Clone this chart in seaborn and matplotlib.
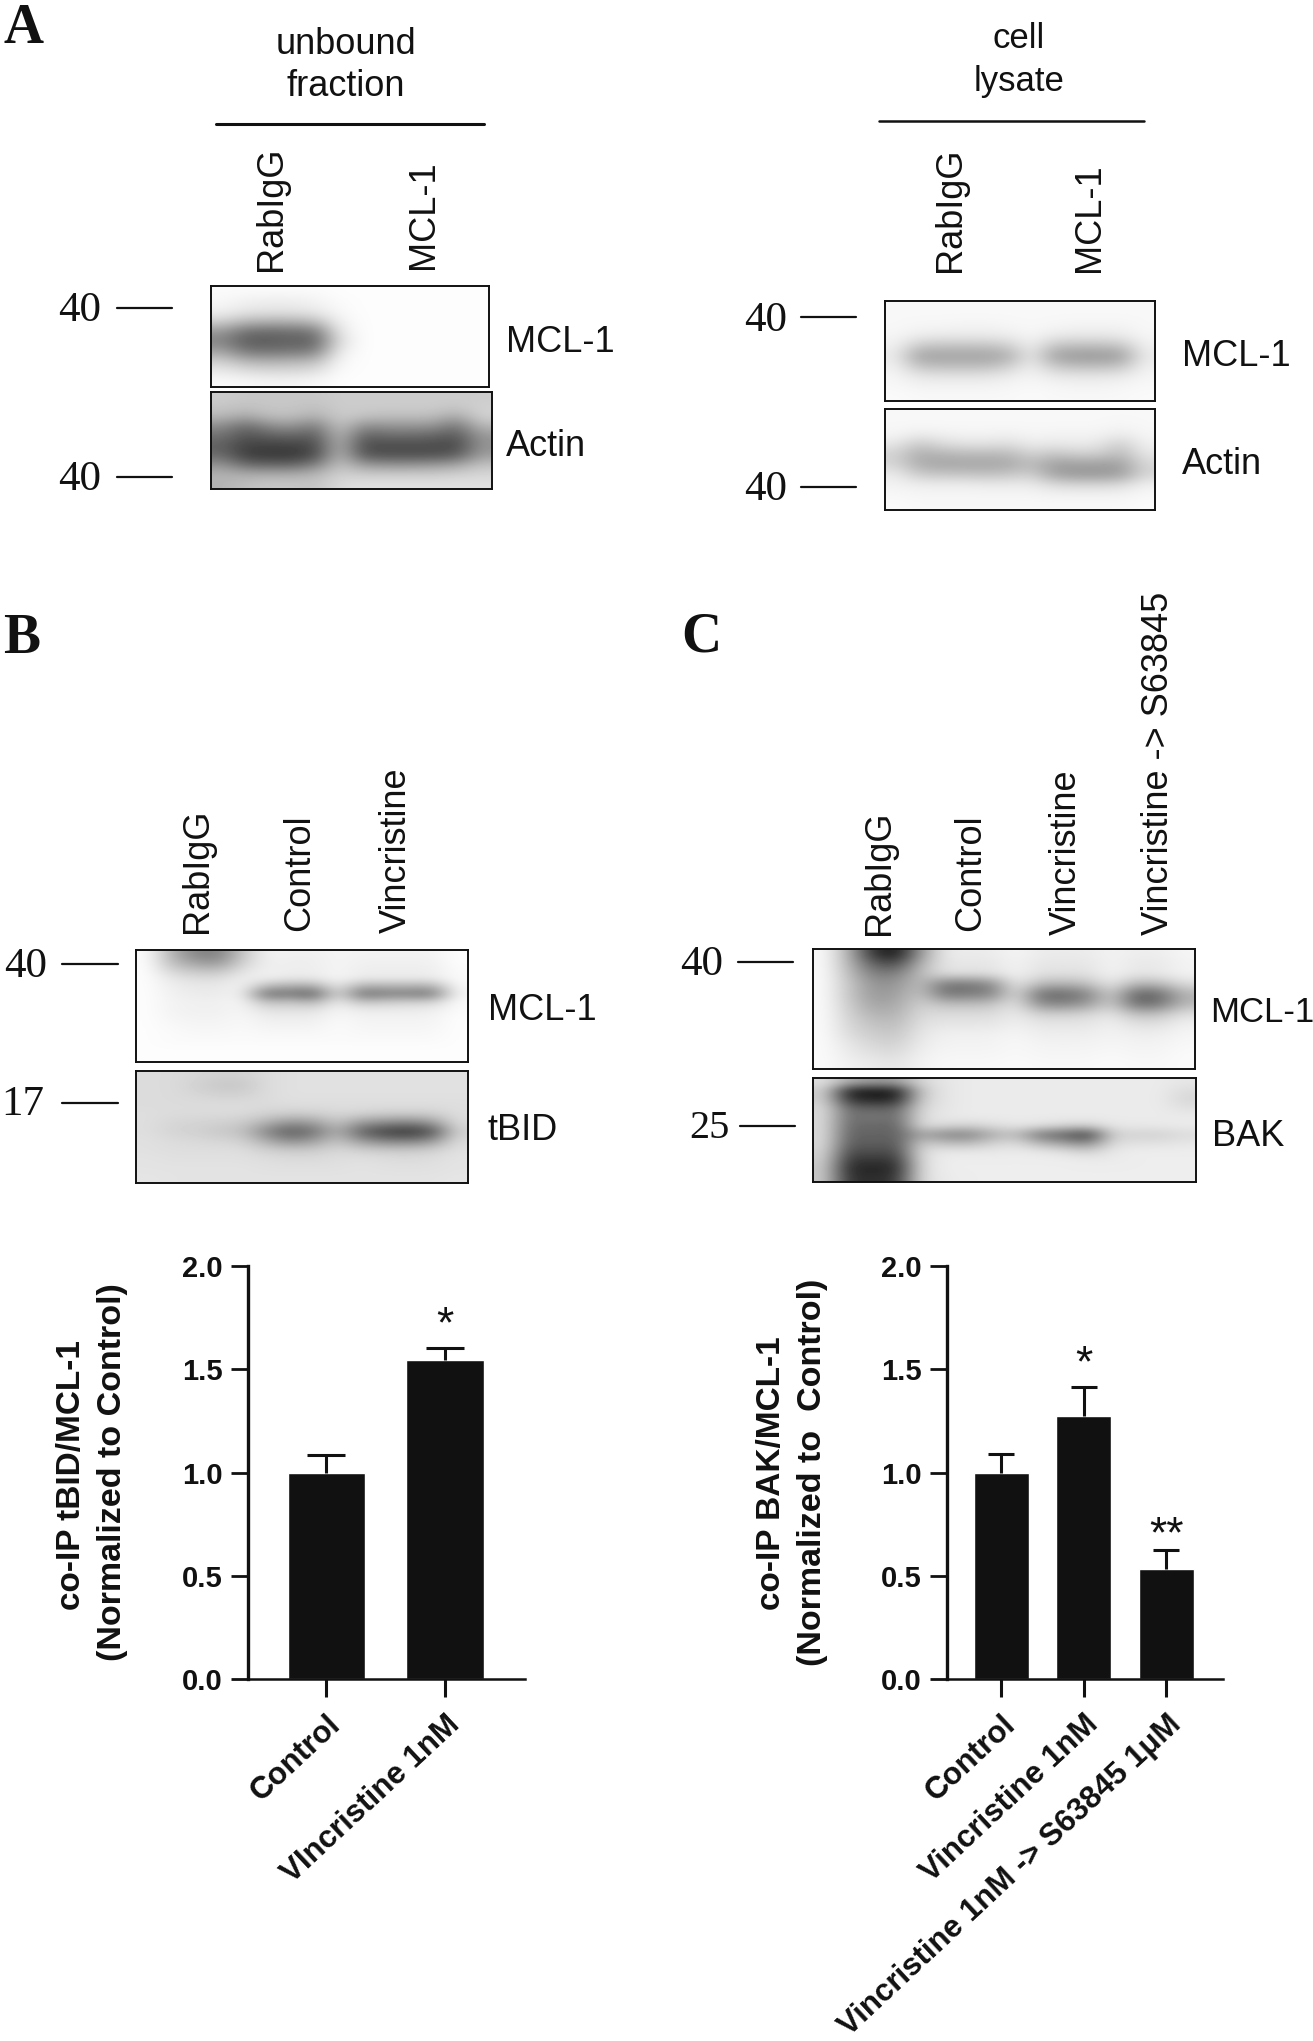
import matplotlib
matplotlib.use("Agg")
import matplotlib.pyplot as plt
import numpy as np
import pandas as pd
import seaborn as sns

# ---------- bar chart data ----------
tbid_groups = ["Control", "VIncristine 1nM"]
tbid_values = [1.0, 1.545]
tbid_errors = [0.085, 0.06]
tbid_stars = ["", "*"]

bak_groups = ["Control", "Vincristine 1nM", "Vincristine 1nM -> S63845 1\u03bcM"]
bak_values = [1.0, 1.275, 0.535]
bak_errors = [0.09, 0.14, 0.09]
bak_stars = ["", "*", "**"]

y_ticks = [0.0, 0.5, 1.0, 1.5, 2.0]

# ---------- blot darkness read by eye (0 = white, 100 = black) ----------
blot_a_mcl1 = [
    [2, 2, 2, 2, 2, 1, 1, 1, 1, 1, 1, 1],
    [3, 6, 7, 7, 5, 2, 1, 1, 1, 1, 1, 1],
    [6, 10, 11, 11, 9, 3, 1, 1, 1, 1, 1, 1],
    [18, 28, 30, 30, 26, 6, 1, 1, 1, 1, 1, 1],
    [40, 56, 58, 56, 54, 10, 1, 1, 1, 1, 1, 1],
    [48, 64, 64, 62, 62, 14, 1, 1, 1, 1, 1, 1],
    [35, 52, 54, 52, 50, 8, 1, 1, 1, 1, 1, 1],
    [18, 28, 30, 28, 26, 4, 1, 1, 1, 1, 1, 1],
    [8, 12, 14, 14, 12, 2, 1, 1, 1, 1, 1, 1],
    [2, 3, 4, 4, 3, 1, 1, 1, 1, 1, 1, 1],
]
blot_a_actin = [
    [20, 22, 22, 22, 22, 20, 20, 20, 20, 20, 20, 20],
    [22, 24, 22, 22, 24, 20, 20, 20, 20, 20, 22, 18],
    [28, 35, 26, 26, 32, 20, 24, 26, 26, 26, 35, 18],
    [45, 58, 45, 42, 52, 22, 45, 42, 42, 42, 55, 28],
    [55, 68, 62, 60, 64, 26, 62, 58, 58, 60, 66, 40],
    [62, 74, 74, 74, 70, 28, 70, 70, 70, 70, 72, 42],
    [58, 76, 78, 78, 70, 26, 66, 68, 68, 68, 64, 38],
    [42, 58, 60, 60, 50, 22, 40, 42, 42, 40, 36, 24],
    [30, 32, 32, 32, 28, 18, 20, 20, 20, 20, 18, 16],
    [30, 25, 22, 22, 24, 14, 12, 12, 12, 12, 12, 12],
]
blot_lysate_mcl1 = [
    [3, 3, 3, 3, 3, 3, 3, 3, 3, 3, 3, 3],
    [3, 3, 3, 3, 3, 3, 3, 3, 3, 3, 3, 3],
    [3, 4, 4, 5, 5, 4, 3, 4, 5, 5, 5, 3],
    [4, 8, 9, 9, 9, 8, 4, 9, 10, 10, 9, 4],
    [6, 22, 24, 24, 24, 20, 6, 24, 26, 26, 24, 6],
    [8, 36, 36, 36, 36, 32, 8, 36, 40, 40, 38, 8],
    [6, 24, 26, 26, 26, 20, 6, 22, 26, 26, 24, 6],
    [4, 10, 11, 11, 11, 8, 4, 9, 10, 10, 9, 4],
    [3, 5, 5, 5, 5, 4, 3, 4, 5, 5, 4, 3],
    [2, 3, 3, 3, 3, 3, 2, 3, 3, 3, 3, 2],
]
blot_lysate_actin = [
    [3, 3, 3, 3, 3, 3, 3, 3, 3, 3, 3, 3],
    [3, 3, 3, 3, 3, 3, 3, 3, 3, 3, 4, 3],
    [4, 8, 6, 5, 5, 6, 4, 5, 5, 5, 8, 4],
    [10, 22, 15, 12, 12, 14, 8, 10, 8, 10, 20, 6],
    [18, 32, 30, 28, 28, 28, 18, 24, 20, 20, 28, 10],
    [16, 32, 35, 35, 35, 34, 26, 38, 38, 38, 38, 16],
    [8, 20, 22, 22, 24, 22, 18, 36, 40, 40, 38, 16],
    [5, 7, 7, 7, 8, 8, 8, 14, 16, 16, 14, 6],
    [3, 4, 4, 4, 4, 4, 4, 5, 5, 5, 5, 3],
    [2, 3, 3, 3, 3, 3, 3, 3, 3, 3, 3, 2],
]
blot_b_mcl1 = [
    [1, 30, 48, 50, 22, 5, 6, 6, 4, 5, 5, 5, 5, 1],
    [1, 26, 38, 42, 18, 6, 7, 7, 4, 6, 6, 6, 6, 1],
    [1, 18, 24, 26, 12, 6, 7, 7, 4, 7, 7, 7, 7, 2],
    [1, 10, 14, 14, 7, 6, 9, 9, 4, 8, 8, 8, 8, 2],
    [1, 7, 9, 9, 5, 28, 32, 34, 8, 32, 30, 30, 32, 3],
    [1, 6, 8, 8, 5, 58, 52, 64, 12, 56, 50, 50, 54, 4],
    [1, 5, 6, 6, 4, 26, 22, 30, 7, 24, 20, 18, 18, 2],
    [1, 5, 6, 6, 4, 12, 12, 12, 4, 8, 8, 8, 7, 2],
    [1, 4, 5, 5, 3, 7, 7, 7, 3, 5, 5, 5, 5, 1],
    [1, 3, 4, 4, 3, 5, 5, 5, 2, 4, 4, 4, 4, 1],
    [1, 2, 3, 3, 2, 3, 3, 3, 2, 3, 3, 3, 3, 1],
    [1, 2, 2, 2, 2, 2, 2, 2, 2, 2, 2, 2, 2, 1],
    [1, 1, 1, 1, 1, 1, 1, 1, 1, 1, 1, 1, 1, 1],
    [1, 1, 1, 1, 1, 1, 1, 1, 1, 1, 1, 1, 1, 1],
]
blot_b_tbid = [
    [14, 14, 16, 18, 18, 14, 12, 12, 12, 12, 12, 12, 12, 12],
    [14, 14, 18, 22, 22, 14, 12, 12, 12, 12, 12, 12, 12, 12],
    [14, 14, 16, 18, 18, 14, 12, 12, 12, 12, 12, 12, 12, 12],
    [14, 14, 14, 14, 14, 14, 13, 13, 13, 13, 13, 13, 13, 13],
    [13, 14, 14, 14, 14, 17, 18, 18, 15, 16, 18, 18, 18, 13],
    [13, 16, 17, 18, 20, 30, 42, 38, 22, 40, 44, 48, 40, 14],
    [13, 17, 18, 22, 24, 48, 65, 56, 30, 62, 76, 80, 70, 18],
    [12, 14, 15, 16, 18, 32, 45, 38, 22, 40, 48, 50, 42, 14],
    [12, 13, 13, 13, 13, 18, 20, 20, 15, 18, 20, 20, 18, 12],
    [11, 12, 12, 12, 12, 13, 14, 14, 13, 12, 13, 14, 13, 11],
    [11, 11, 11, 11, 11, 12, 12, 12, 12, 11, 12, 12, 12, 11],
    [10, 11, 11, 11, 11, 11, 11, 11, 11, 11, 11, 11, 11, 10],
]
blot_c_mcl1 = [
    [2, 30, 80, 92, 40, 8, 8, 8, 4, 8, 8, 8, 5, 7, 7, 4],
    [2, 28, 62, 70, 30, 10, 10, 10, 5, 10, 10, 10, 5, 9, 9, 5],
    [2, 25, 50, 50, 26, 12, 12, 12, 5, 12, 12, 12, 5, 10, 9, 5],
    [2, 22, 42, 42, 24, 55, 55, 48, 8, 28, 30, 26, 9, 30, 28, 14],
    [2, 22, 40, 38, 22, 55, 52, 50, 12, 58, 60, 50, 18, 62, 60, 30],
    [2, 20, 36, 34, 18, 25, 25, 24, 10, 45, 48, 40, 18, 58, 55, 28],
    [2, 18, 30, 30, 15, 14, 14, 14, 8, 18, 18, 16, 10, 25, 24, 12],
    [2, 16, 24, 26, 12, 10, 10, 10, 6, 10, 10, 10, 6, 12, 12, 6],
    [2, 14, 20, 22, 10, 6, 6, 6, 4, 7, 7, 7, 5, 7, 7, 4],
    [2, 10, 16, 18, 8, 5, 5, 5, 3, 5, 5, 5, 4, 5, 5, 3],
    [2, 8, 12, 14, 6, 4, 4, 4, 3, 4, 4, 4, 3, 4, 4, 2],
    [2, 6, 8, 10, 5, 3, 3, 3, 2, 3, 3, 3, 2, 3, 3, 2],
]
blot_c_bak = [
    [12, 32, 38, 38, 16, 10, 8, 8, 8, 8, 8, 8, 8, 8, 8, 10],
    [18, 88, 92, 90, 22, 10, 8, 8, 8, 8, 8, 8, 8, 8, 8, 14],
    [18, 80, 85, 85, 20, 10, 8, 8, 8, 8, 8, 8, 8, 8, 8, 16],
    [14, 60, 60, 62, 16, 10, 8, 8, 8, 8, 8, 8, 8, 8, 8, 12],
    [14, 58, 52, 58, 14, 9, 8, 8, 8, 8, 8, 8, 8, 8, 8, 8],
    [14, 60, 58, 62, 14, 15, 18, 14, 10, 12, 16, 18, 10, 9, 9, 8],
    [14, 62, 60, 62, 36, 48, 50, 32, 26, 55, 62, 78, 18, 18, 18, 14],
    [14, 65, 62, 66, 20, 26, 28, 18, 14, 30, 38, 48, 14, 12, 12, 10],
    [16, 72, 68, 72, 14, 9, 9, 9, 8, 9, 12, 18, 9, 7, 7, 7],
    [18, 80, 78, 80, 14, 7, 7, 7, 7, 7, 7, 8, 8, 7, 7, 7],
    [20, 85, 85, 85, 14, 7, 7, 7, 7, 7, 7, 7, 7, 7, 7, 7],
    [20, 82, 82, 80, 14, 8, 7, 7, 7, 7, 7, 7, 7, 7, 7, 7],
]

sns.set_theme(style="ticks")
plt.rcParams["font.family"] = ["Liberation Sans", "DejaVu Sans"]

W, H = 1313, 2041
fig = plt.figure(figsize=(W / 100, H / 100), dpi=100, facecolor="white")
INK = "#111111"
SANS = 26
SERIF = 31


def px_axes(x0, y0, x1, y1):
    return fig.add_axes([x0 / W, 1 - y1 / H, (x1 - x0) / W, (y1 - y0) / H])


def put(x, y, s, size=SANS, ha="center", va="center", rot=0, family="Liberation Sans", weight="normal"):
    fig.text(x / W, 1 - y / H, s, fontsize=size, ha=ha, va=va, rotation=rot,
             family=family, weight=weight, color=INK)


def rule(x0, x1, y, lw=1.6):
    fig.add_artist(plt.Line2D([x0 / W, x1 / W], [1 - y / H, 1 - y / H], color=INK, lw=lw))


def blot(grid, x0, y0, x1, y1):
    ax = px_axes(x0, y0, x1, y1)
    ax.imshow(np.array(grid, dtype=float), cmap="gray_r", vmin=0, vmax=100,
              aspect="auto", interpolation="bicubic")
    ax.set_xticks([])
    ax.set_yticks([])
    for s in ax.spines.values():
        s.set_visible(True)
        s.set_color(INK)
        s.set_linewidth(1.4)


def bars(groups, values, errors, stars, x0, y0, x1, y1, left, right, width, cap, star_offs):
    ax = px_axes(x0, y0, x1, y1)
    df = pd.DataFrame({"group": groups, "value": values})
    sns.barplot(data=df, x="group", y="value", color=INK, saturation=1, width=width,
                errorbar=None, ax=ax)
    pos = np.arange(len(values))
    _, caps, _ = ax.errorbar(pos, values, yerr=[np.zeros(len(errors)), errors], fmt="none",
                             ecolor=INK, elinewidth=2.2, capsize=cap, capthick=2.2)
    caps[0].set_visible(False)
    for p, v, e, s, off in zip(pos, values, errors, stars, star_offs):
        if s:
            ax.annotate(s, (p, v + e), xytext=(0, off), textcoords="offset points",
                        ha="center", va="center", fontsize=32, color=INK)
    ax.set_xlim(left, right)
    ax.set_ylim(0, 2)
    ax.set_yticks(y_ticks)
    ax.set_yticklabels([f"{t:.1f}" for t in y_ticks], fontsize=21, fontweight="bold", color=INK)
    ax.set_xticks(pos)
    ax.set_xticklabels(groups, fontsize=22.5, fontweight="bold", color=INK, rotation=43,
                       ha="right", va="top", rotation_mode="anchor")
    ax.set_xlabel("")
    ax.set_ylabel("")
    ax.tick_params(axis="y", length=12, width=2.0, pad=6, color=INK)
    ax.tick_params(axis="x", length=13, width=2.2, pad=9, color=INK)
    sns.despine(ax=ax)
    ax.spines["left"].set_linewidth(2.4)
    ax.spines["bottom"].set_linewidth(1.8)
    ax.spines["left"].set_color(INK)
    ax.spines["bottom"].set_color(INK)
    ax.patch.set_alpha(0)
    return ax


# ---------- panel letters ----------
for x, y, s in [(24, 29, "A"), (22, 639, "B"), (701, 638, "C")]:
    put(x, y, s, size=40, family="Liberation Serif", weight="bold")

# ---------- panel A ----------
put(346, 44, "unbound", size=26)
put(346, 86, "fraction", size=26)
rule(216, 484, 123.5, lw=2.2)
put(1019, 38, "cell", size=25)
put(1019, 81, "lysate", size=25)
rule(879, 1144, 121.5, lw=1.8)
put(272, 271, "RabIgG", va="bottom", rot=90)
put(424, 269, "MCL-1", va="bottom", rot=90)
put(950, 272, "RabIgG", va="bottom", rot=90)
put(1090, 272, "MCL-1", va="bottom", rot=90)
blot(blot_a_mcl1, 211, 286, 489, 387)
blot(blot_a_actin, 211, 392, 492, 489)
blot(blot_lysate_mcl1, 885, 301, 1155, 401)
blot(blot_lysate_actin, 885, 409, 1155, 510)
put(506, 343, "MCL-1", ha="left")
put(506, 446, "Actin", ha="left")
put(1182, 356, "MCL-1", ha="left")
put(1182, 465, "Actin", ha="left")
put(80, 311, "40", size=SERIF, family="Liberation Serif")
put(80, 480, "40", size=SERIF, family="Liberation Serif")
rule(117, 172, 307.5)
rule(117, 172, 476.5)
put(766, 321, "40", size=SERIF, family="Liberation Serif")
put(766, 490, "40", size=SERIF, family="Liberation Serif")
rule(801, 856, 317)
rule(801, 856, 487)

# ---------- panel B ----------
put(198, 933, "RabIgG", va="bottom", rot=90)
put(300, 931, "Control", va="bottom", rot=90)
put(396, 933, "Vincristine", va="bottom", rot=90)
blot(blot_b_mcl1, 136, 950, 468, 1062)
blot(blot_b_tbid, 136, 1071, 468, 1183)
put(488, 1010, "MCL-1", ha="left")
put(488, 1130, "tBID", ha="left")
put(26, 967, "40", size=SERIF, family="Liberation Serif")
put(23, 1105, "17", size=SERIF, family="Liberation Serif")
rule(62, 118, 963.5)
rule(62, 118, 1103)

# ---------- panel C ----------
put(880, 935, "RabIgG", va="bottom", rot=90)
put(971, 931, "Control", va="bottom", rot=90)
put(1066, 935, "Vincristine", va="bottom", rot=90)
put(1158, 935, "Vincristine -> S63845", va="bottom", rot=90)
blot(blot_c_mcl1, 813, 949, 1195, 1069)
blot(blot_c_bak, 813, 1078, 1196, 1182)
put(1210, 1013, "MCL-1", ha="left", size=25)
put(1212, 1136, "BAK", ha="left")
put(702, 965, "40", size=SERIF, family="Liberation Serif")
put(709, 1129, "25", size=29, family="Liberation Serif")
rule(738, 793, 961.5)
rule(740, 795, 1125.5)

# ---------- bar charts ----------
bars(tbid_groups, tbid_values, tbid_errors, tbid_stars, 248, 1266, 525, 1679,
     -0.662, 1.675, 0.65, 14, [16, 16])
bars(bak_groups, bak_values, bak_errors, bak_stars, 947, 1266, 1223, 1679,
     -0.66, 2.685, 0.667, 9.5, [16, 16, 10.5])
put(72, 1475, "co-IP tBID/MCL-1", rot=90, weight="bold", size=24)
put(113, 1472, "(Normalized to Control)", rot=90, weight="bold", size=24.5)
put(771, 1473, "co-IP BAK/MCL-1", rot=90, weight="bold", size=24)
put(813, 1472, "(Normalized to  Control)", rot=90, weight="bold", size=24.5)

fig.savefig("out.png", dpi=100, facecolor="white")
